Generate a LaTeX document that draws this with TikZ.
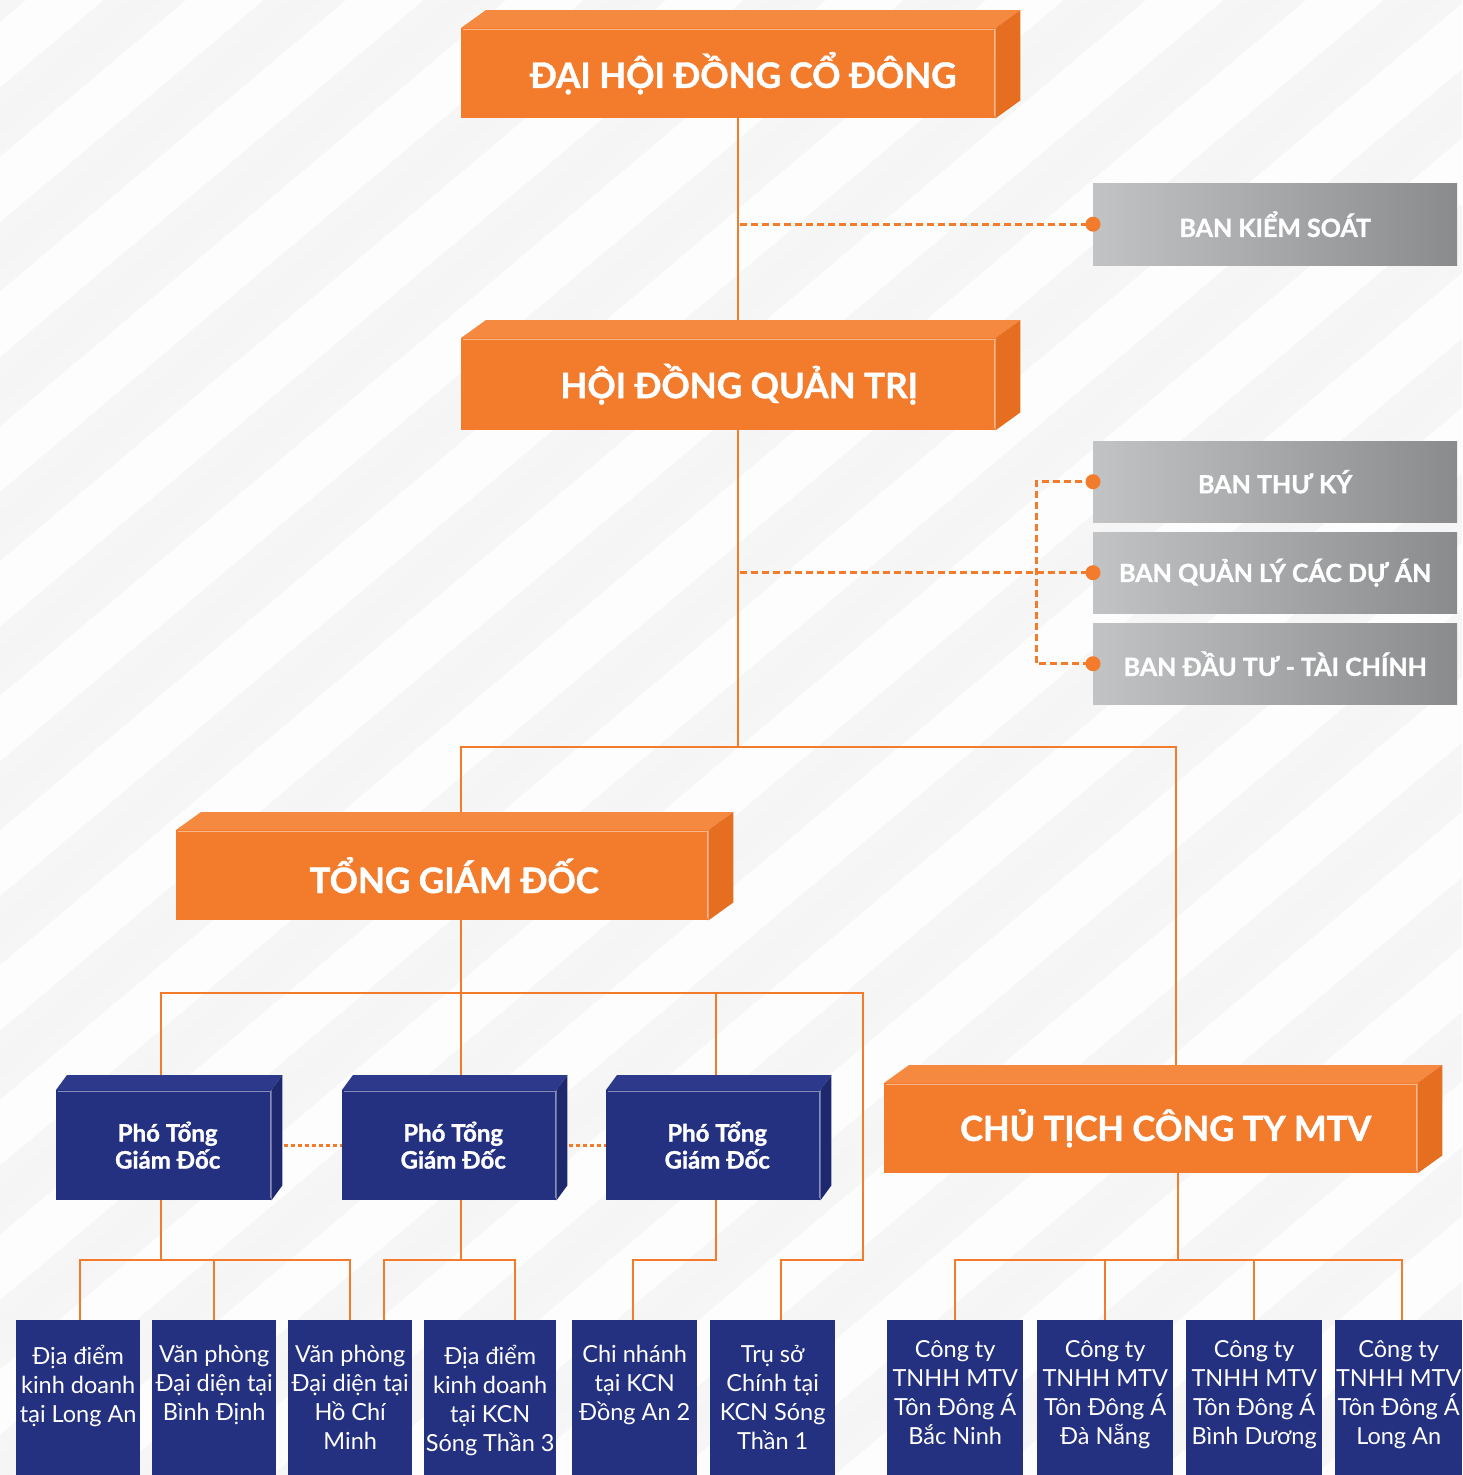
\documentclass[tikz,border=0pt]{standalone}
\usepackage{fontspec}
\setmainfont{Lato}
\newfontfamily\heavyf{Lato}[BoldFeatures={FakeBold=1.2}]
\usetikzlibrary{calc}
\definecolor{tdo}{HTML}{F37B2C}
\definecolor{tdotop}{HTML}{F5893F}
\definecolor{tdoside}{HTML}{E56E20}
\definecolor{navy}{HTML}{243080}
\definecolor{navytop}{HTML}{2D3A8C}
\definecolor{navyside}{HTML}{1D286E}
\definecolor{gl}{HTML}{C2C3C5}
\definecolor{gr}{HTML}{8A8B8D}
\definecolor{bgc}{HTML}{F6F6F6}
\pgfdeclarelayer{bg}\pgfdeclarelayer{conn}\pgfsetlayers{bg,conn,main}
\tikzset{
  x=1pt,y=-1pt,
  obox/.style={anchor=north west, fill=tdo, minimum height=90, inner sep=0, text=white,
    font=\heavyf\bfseries\fontsize{35}{40}\selectfont},
  gbox/.style={anchor=north west, left color=gl, right color=gr, minimum width=364, minimum height=82,
    inner sep=0, text=white, font=\heavyf\bfseries\fontsize{25}{28}\selectfont},
  pbox/.style={anchor=north west, fill=navy, minimum width=215, minimum height=110, inner sep=0,
    text=white, align=center, font=\heavyf\bfseries\fontsize{24}{27}\selectfont},
  bbox/.style={anchor=north west, fill=navy, minimum height=160, inner sep=0, text=white,
    font=\fontsize{23.5}{29}\selectfont},
  conn/.style={draw=tdo, line width=2.5pt},
  dotl/.style={draw=tdo, line width=3pt, dash pattern=on 7pt off 4pt},
}
\newcommand\mkfaces[4]{%
  \fill[#4top] (#1.north west) -- ++(#2,-#3) -- ([shift={(#2,-#3)}]#1.north east) -- (#1.north east) -- cycle;
  \fill[#4side] (#1.north east) -- ++(#2,-#3) -- ([shift={(#2,-#3)}]#1.south east) -- (#1.south east) -- cycle;
  \draw[white, opacity=0.45, line width=1pt] ([shift={(2,1)}]#1.north west) -- ([shift={(-1,1)}]#1.north east) -- ([shift={(-1,-2)}]#1.south east);
}
\begin{document}
\begin{tikzpicture}
\useasboundingbox (0,0) rectangle (1462,1475);
\begin{pgfonlayer}{bg}
  \fill[bgc] (0,0) rectangle (1462,1475);
  \begin{scope}
    \clip (0,0) rectangle (1462,1475);
    \foreach \s in {-1900,-1740,...,1500} {
      \draw[white, line width=50pt, opacity=0.85] (\s,1520) -- ++(1900,-1600);
      \draw[black!4, line width=20pt, opacity=0.7] (\s+80,1520) -- ++(1900,-1600);
    }
  \end{scope}
\end{pgfonlayer}

% main orange boxes
\node[obox, minimum width=534] (dh) at (461,28) {\hspace*{30pt}ĐẠI HỘI ĐỒNG CỔ ĐÔNG};
\mkfaces{dh}{25}{18}{tdo}
\node[obox, minimum width=534, minimum height=92] (hq) at (461,338) {\hspace*{22pt}HỘI ĐỒNG QUẢN TRỊ};
\mkfaces{hq}{25}{18}{tdo}
\node[obox, minimum width=532] (tg) at (176,830) {\hspace*{24pt}TỔNG GIÁM ĐỐC};
\mkfaces{tg}{25}{18}{tdo}
\node[obox, minimum width=533, font=\heavyf\bfseries\fontsize{34.5}{40}\selectfont] (ct) at (884,1083) {\hspace*{30pt}CHỦ TỊCH CÔNG TY MTV};
\mkfaces{ct}{25}{18}{tdo}

% gray boxes
\node[gbox] (bks) at (1093,183) {BAN KIỂM SOÁT};
\node[gbox, minimum height=81] (btk) at (1093,441) {BAN THƯ KÝ};
\node[gbox, minimum height=81] (bql) at (1093,532) {BAN QUẢN LÝ CÁC DỰ ÁN};
\node[gbox, minimum height=81] (bdt) at (1093,623) {BAN ĐẦU TƯ - TÀI CHÍNH};

% deputy boxes
\node[pbox] (p1) at (56,1090) {\hspace*{8pt}Phó Tổng\\\hspace*{8pt}Giám Đốc};
\mkfaces{p1}{11}{15}{navy}
\node[pbox, minimum width=214] (p2) at (342,1090) {\hspace*{8pt}Phó Tổng\\\hspace*{8pt}Giám Đốc};
\mkfaces{p2}{11}{15}{navy}
\node[pbox, minimum width=214] (p3) at (606,1090) {\hspace*{8pt}Phó Tổng\\\hspace*{8pt}Giám Đốc};
\mkfaces{p3}{11}{15}{navy}

% bottom boxes
\node[bbox, minimum width=124] (b1) at (16,1320) {\parbox[c][150pt][t]{124pt}{\centering\vspace*{20pt}Địa điểm\\kinh doanh\\tại Long An}};
\node[bbox, minimum width=124] (b2) at (152,1320) {\parbox[c][150pt][t]{124pt}{\centering\vspace*{20pt}Văn phòng\\Đại diện tại\\Bình Định}};
\node[bbox, minimum width=124] (b3) at (288,1320) {\parbox[c][150pt][t]{124pt}{\centering\vspace*{20pt}Văn phòng\\Đại diện tại\\Hồ Chí\\Minh}};
\node[bbox, minimum width=132] (b4) at (424,1320) {\parbox[c][150pt][t]{132pt}{\centering\vspace*{20pt}Địa điểm\\kinh doanh\\tại KCN\\Sóng Thần 3}};
\node[bbox, minimum width=125] (b5) at (572,1320) {\parbox[c][150pt][t]{125pt}{\centering\vspace*{20pt}Chi nhánh\\tại KCN\\Đồng An 2}};
\node[bbox, minimum width=125] (b6) at (710,1320) {\parbox[c][150pt][t]{125pt}{\centering\vspace*{20pt}Trụ sở\\Chính tại\\KCN Sóng\\Thần 1}};
\node[bbox, minimum width=136] (r1) at (887,1320) {\parbox[c][150pt][t]{136pt}{\centering\vspace*{15pt}Công ty\\TNHH MTV\\Tôn Đông Á\\Bắc Ninh}};
\node[bbox, minimum width=136] (r2) at (1037,1320) {\parbox[c][150pt][t]{136pt}{\centering\vspace*{15pt}Công ty\\TNHH MTV\\Tôn Đông Á\\Đà Nẵng}};
\node[bbox, minimum width=136] (r3) at (1186,1320) {\parbox[c][150pt][t]{136pt}{\centering\vspace*{15pt}Công ty\\TNHH MTV\\Tôn Đông Á\\Bình Dương}};
\node[bbox, minimum width=127] (r4) at (1335,1320) {\parbox[c][150pt][t]{127pt}{\centering\vspace*{15pt}Công ty\\TNHH MTV\\Tôn Đông Á\\Long An}};

% junction coordinates
\coordinate (cx) at (738,0);
\coordinate (ja) at (738,747);
\coordinate (jl) at (461,747);
\coordinate (jr) at (1176,747);
\coordinate (dv) at (1036,0);
\coordinate (k0) at (461,993);
\coordinate (k1) at (161,993);
\coordinate (k3) at (716,993);
\coordinate (k4) at (863,993);
\coordinate (m4) at (863,1260);
\coordinate (m6) at (781,1260);
\coordinate (m1) at (161,1260);
\coordinate (m1a) at (80,1260);
\coordinate (m1b) at (214,1260);
\coordinate (m1c) at (350,1260);
\coordinate (m2) at (461,1260);
\coordinate (m2a) at (384,1260);
\coordinate (m2b) at (515,1260);
\coordinate (m3) at (716,1260);
\coordinate (m3a) at (633,1260);
\coordinate (n0) at (1178,1260);
\coordinate (n1) at (955,1260);
\coordinate (n2) at (1105,1260);
\coordinate (n3) at (1254,1260);
\coordinate (n4) at (1402,1260);

\begin{pgfonlayer}{conn}
  \draw[conn] (cx |- dh.south) -- (cx |- hq.north);
  \draw[conn] (cx |- hq.south) -- (ja);
  \draw[conn] (jl |- tg.north) -- (jl) -- (jr) -- (jr |- ct.north);
  \draw[conn] (k0 |- tg.south) -- (k0);
  \draw[conn] (k1 |- p1.north) -- (k1) -- (k4) -- (m4) -- (m6) -- (m6 |- b6.north);
  \draw[conn] (k0) -- (k0 |- p2.north);
  \draw[conn] (k3) -- (k3 |- p3.north);
  \draw[conn] (m1 |- p1.south) -- (m1);
  \draw[conn] (m1a |- b1.north) -- (m1a) -- (m1c) -- (m1c |- b3.north);
  \draw[conn] (m1b) -- (m1b |- b2.north);
  \draw[conn] (m2 |- p2.south) -- (m2);
  \draw[conn] (m2a |- b3.north) -- (m2a) -- (m2b) -- (m2b |- b4.north);
  \draw[conn] (m3 |- p3.south) -- (m3) -- (m3a) -- (m3a |- b5.north);
  \draw[conn] (n0 |- ct.south) -- (n0);
  \draw[conn] (n1 |- r1.north) -- (n1) -- (n4) -- (n4 |- r4.north);
  \draw[conn] (n2) -- (n2 |- r2.north);
  \draw[conn] (n3) -- (n3 |- r3.north);
  \draw[dotl] ([xshift=2pt]cx |- bks.west) -- (bks.west);
  \draw[dotl] ([xshift=2pt]cx |- bql.west) -- (bql.west);
  \draw[dotl] (btk.west) -- (dv |- btk.west) -- (dv |- bdt.west) -- (bdt.west);
  \draw[dotl, dash pattern=on 4pt off 3pt] ([xshift=13pt]p1.east) -- (p2.west);
  \draw[dotl, dash pattern=on 4pt off 3pt] ([xshift=13pt]p2.east) -- (p3.west);
\end{pgfonlayer}
\fill[tdo] (bks.west) circle (7.5);
\fill[tdo] (btk.west) circle (7.5);
\fill[tdo] (bql.west) circle (7.5);
\fill[tdo] (bdt.west) circle (7.5);
\end{tikzpicture}
\end{document}
